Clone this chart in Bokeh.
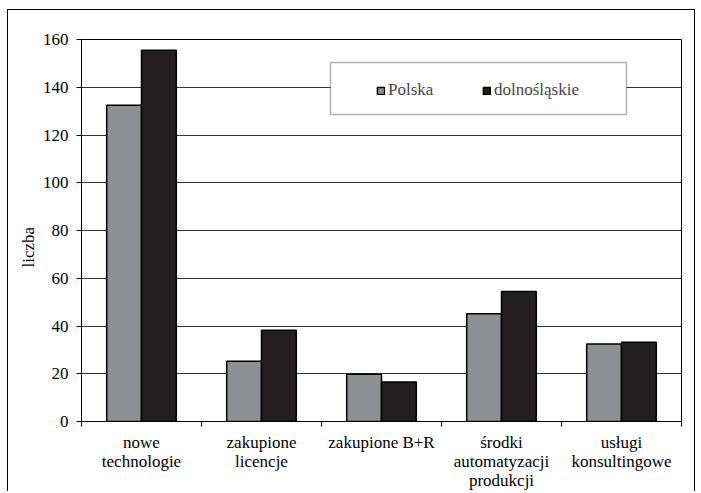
from bokeh.plotting import figure
from bokeh.models import (ColumnDataSource, Range1d, FixedTicker, Legend, LegendItem,
                          BoxAnnotation, Title)
from bokeh.embed import file_html
from bokeh.resources import INLINE

categories = ["nowe\ntechnologie", "zakupione\nlicencje", "zakupione B+R",
              "środki\nautomatyzacji\nprodukcji", "usługi\nkonsultingowe"]
polska = [132.5, 25.2, 19.8, 45.1, 32.5]
dolnoslaskie = [155.5, 38.2, 16.5, 54.4, 33.2]
y_ticks = [0, 20, 40, 60, 80, 100, 120, 140, 160]
y_title = "liczba"

FONT = "Liberation Serif"
GRAY = "#8f9094"
BLACK = "#231f20"

n = len(categories)
centers = [i + 0.5 for i in range(n)]
src = ColumnDataSource(dict(
    x1=[c - 0.145 for c in centers], x2=[c + 0.145 for c in centers],
    polska=polska, dolnoslaskie=dolnoslaskie))

p = figure(width=688, height=482, output_backend="svg", toolbar_location=None,
           x_range=Range1d(0, n), y_range=Range1d(0, 160),
           min_border_left=73, min_border_right=15, min_border_top=29, min_border_bottom=60)
p.styles = {"border-left": "1px solid black", "border-top": "1px solid black",
            "border-right": "1px solid black", "margin-left": "7px", "margin-top": "9px"}
p.outline_line_color = "black"
p.outline_line_width = 1
p.background_fill_color = "white"

r1 = p.vbar(x="x1", top="polska", width=0.29, bottom=0, source=src,
            fill_color=GRAY, line_color="black", line_width=1.5)
r2 = p.vbar(x="x2", top="dolnoslaskie", width=0.29, bottom=0, source=src,
            fill_color=BLACK, line_color="black", line_width=1.5)

# y axis
p.yaxis.ticker = FixedTicker(ticks=y_ticks)
p.yaxis.major_label_text_font = FONT
p.yaxis.major_label_text_font_size = "17px"
p.yaxis.major_label_text_color = "black"
p.yaxis.major_tick_out = 5
p.yaxis.major_tick_in = 0
p.yaxis.minor_tick_line_color = None
p.yaxis.major_label_standoff = 8
p.yaxis.axis_line_color = "black"

# y axis title (slightly below the frame centre, as in the original)
p.add_layout(Title(text=y_title, align="left", offset=154, text_font=FONT,
                   text_font_size="17px", text_font_style="normal",
                   text_color="black", standoff=4), "left")

# x axis: labels at centres, ticks at category boundaries
p.xaxis.ticker = FixedTicker(ticks=centers, minor_ticks=list(range(n + 1)))
p.xaxis.major_label_overrides = {c: lab for c, lab in zip(centers, categories)}
p.xaxis.major_tick_line_color = None
p.xaxis.major_tick_out = 0
p.xaxis.major_tick_in = 0
p.xaxis.minor_tick_out = 5
p.xaxis.minor_tick_in = 0
p.xaxis.minor_tick_line_color = "black"
p.xaxis.major_label_text_font = FONT
p.xaxis.major_label_text_font_size = "17px"
p.xaxis.major_label_text_color = "black"
p.xaxis.major_label_text_line_height = 1.0
p.xaxis.major_label_standoff = 6
p.xaxis.axis_line_color = "black"

p.xgrid.grid_line_color = None
p.ygrid.ticker = FixedTicker(ticks=y_ticks)
p.ygrid.grid_line_color = "#333333"
p.ygrid.grid_line_width = 1

box = BoxAnnotation(left=249, right=545, top=359, bottom=307,
                    left_units="screen", right_units="screen",
                    top_units="screen", bottom_units="screen",
                    fill_color="white", fill_alpha=1.0,
                    line_color="black", line_width=1.5, level="annotation")
p.add_layout(box)

legend = Legend(items=[LegendItem(label="Polska", renderers=[r1]),
                       LegendItem(label="dolnośląskie", renderers=[r2])],
                orientation="horizontal", location=(295, 321),
                padding=0, margin=0, spacing=0,
                glyph_width=9, glyph_height=9, label_standoff=3,
                label_width=94, label_height=18,
                label_text_font=FONT, label_text_font_size="17px",
                border_line_color=None, background_fill_alpha=0)
p.add_layout(legend, "center")

open("out.html", "w").write(file_html(p, INLINE))
